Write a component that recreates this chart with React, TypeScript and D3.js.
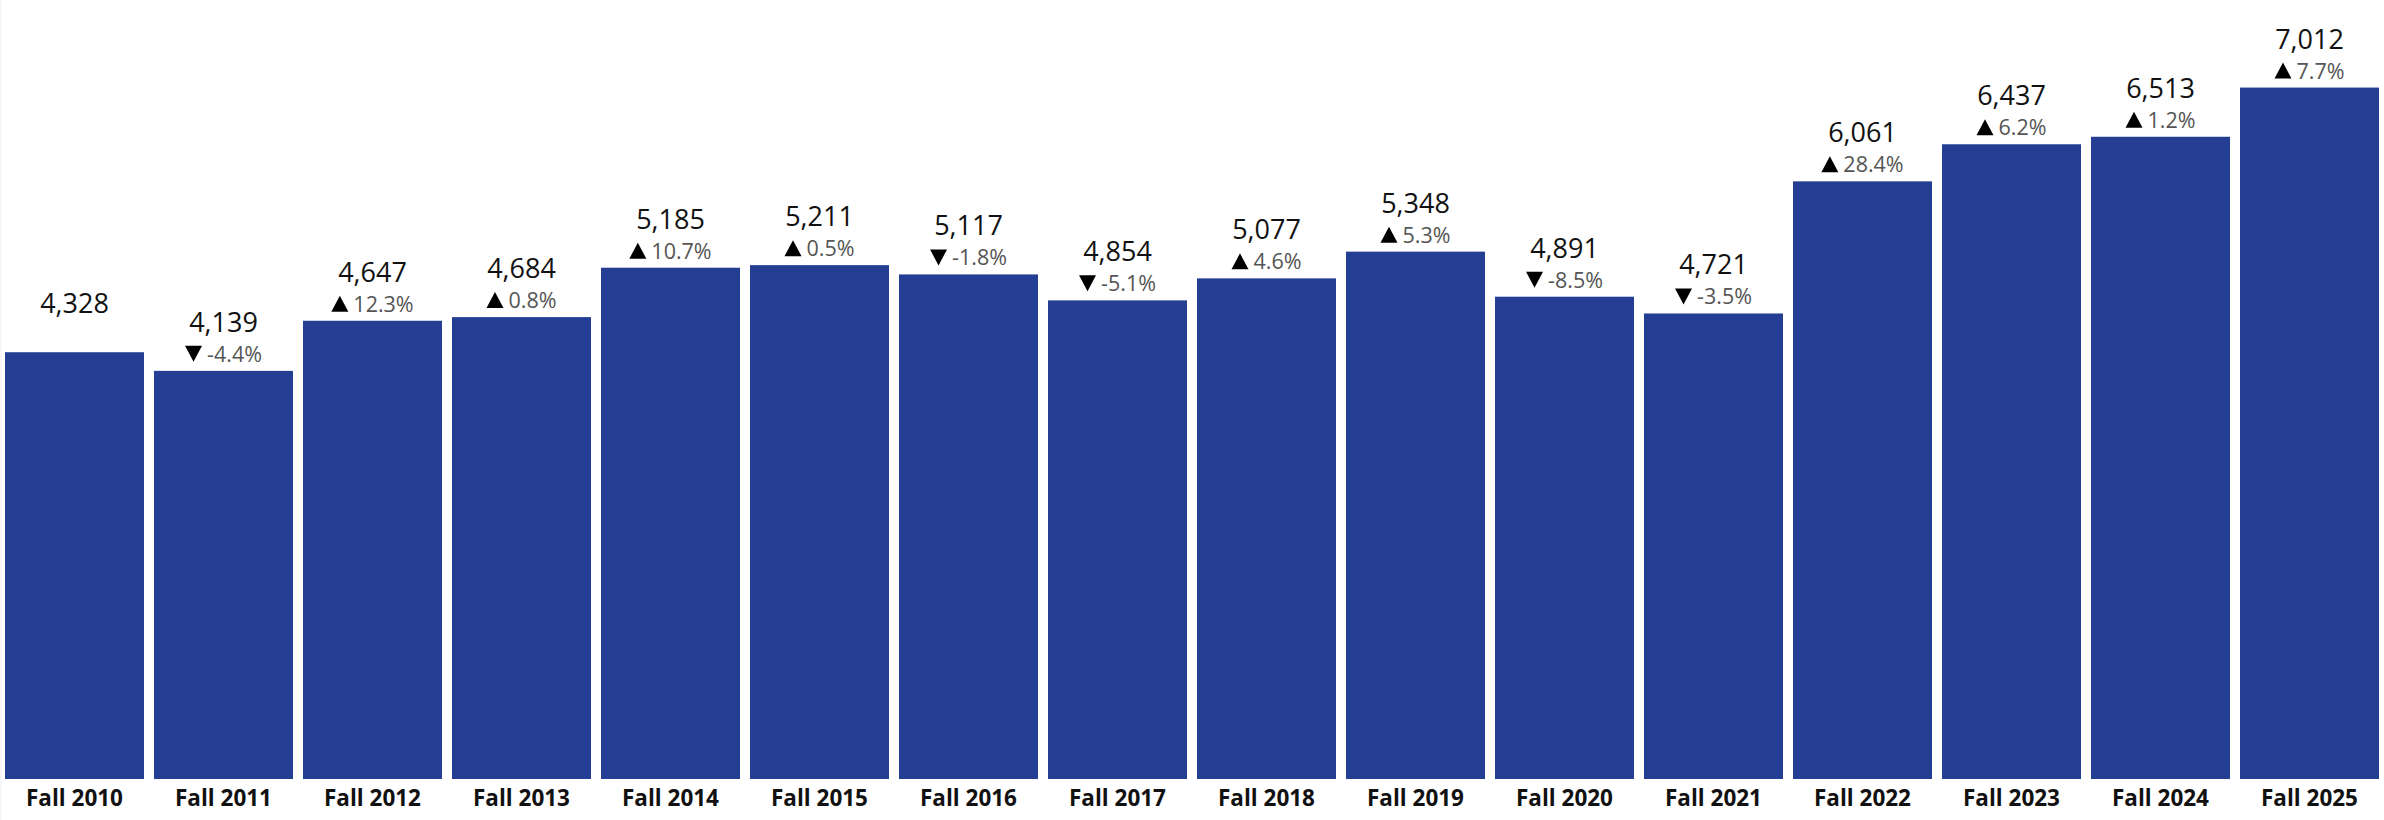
import React from "react";
import * as d3 from "d3";

const categories = ["Fall 2010","Fall 2011","Fall 2012","Fall 2013","Fall 2014","Fall 2015","Fall 2016","Fall 2017","Fall 2018","Fall 2019","Fall 2020","Fall 2021","Fall 2022","Fall 2023","Fall 2024","Fall 2025"];
const values = [4328,4139,4647,4684,5185,5211,5117,4854,5077,5348,4891,4721,6061,6437,6513,7012];
const changes: (number | null)[] = [null,-4.4,12.3,0.8,10.7,0.5,-1.8,-5.1,4.6,5.3,-8.5,-3.5,28.4,6.2,1.2,7.7];

const W = 2384, H = 820;
const BAR = "#233E93";
const FONT = "'Open Sans', 'Noto Sans', sans-serif";
const PCT_SIZE = 21.5;

let ctx: CanvasRenderingContext2D | null = null;
function measure(s: string, size: number): number {
  if (!ctx) ctx = document.createElement("canvas").getContext("2d");
  if (!ctx) return s.length * size * 0.55;
  ctx.font = `${size}px ${FONT}`;
  return ctx.measureText(s).width;
}

export default function App() {
  const x = d3.scaleBand<string>().domain(categories).range([0, W]).paddingInner(10 / 149).paddingOuter(5 / 149);
  const y = d3.scaleLinear().domain([0, 7900]).range([779, 0]);
  const fmt = d3.format(",");
  const triW = 17, triH = 16, gap = 5;
  return (
    <svg width={W} height={H} style={{ position: "absolute", left: 0, top: 0, background: "#fff" }} fontFamily={FONT}>
      <line x1={1} x2={1} y1={0} y2={H} stroke="#eeeeee" strokeWidth={1} />
      {categories.map((c, i) => {
        const bx = x(c)!;
        const bw = x.bandwidth();
        const cx = bx + bw / 2;
        const top = y(values[i]);
        const ch = changes[i];
        let pct = null as React.ReactNode;
        if (ch !== null) {
          const label = (ch >= 0 ? "" : "-") + Math.abs(ch).toFixed(1) + "%";
          const tw = measure(label, PCT_SIZE);
          const x0 = cx - (triW + gap + tw) / 2;
          const base = top - 9;
          const tri = ch >= 0
            ? `M${x0},${base} L${x0 + triW},${base} L${x0 + triW / 2},${base - triH} Z`
            : `M${x0},${base - triH} L${x0 + triW},${base - triH} L${x0 + triW / 2},${base} Z`;
          pct = (
            <g>
              <path d={tri} fill="#000" />
              <text x={x0 + triW + gap} y={base} fontSize={PCT_SIZE} fill="#555">{label}</text>
            </g>
          );
        }
        return (
          <g key={c}>
            <rect x={bx} y={top} width={bw} height={y(0) - top} fill={BAR} />
            <text x={cx} y={top - 39} textAnchor="middle" fontSize={27} fill="#111">{fmt(values[i])}</text>
            {pct}
            <text x={cx} y={806} textAnchor="middle" fontSize={22.5} fontWeight="bold" fill="#111">{c}</text>
          </g>
        );
      })}
    </svg>
  );
}
